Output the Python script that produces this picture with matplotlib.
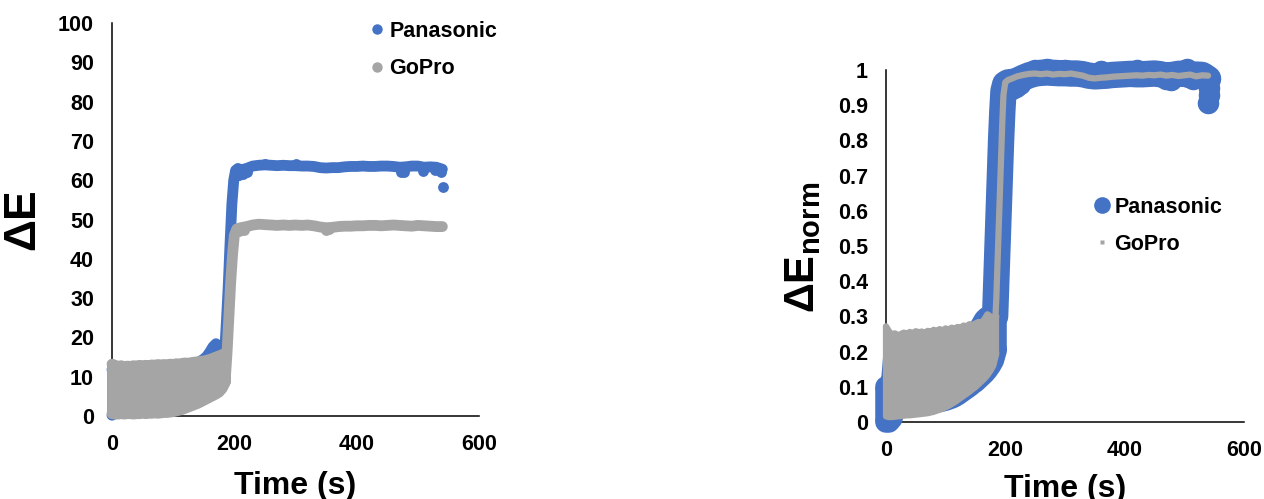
import matplotlib
matplotlib.use("Agg")
import matplotlib.pyplot as plt
from matplotlib.lines import Line2D

plt.rcParams['font.family'] = ['Liberation Sans', 'DejaVu Sans']
plt.rcParams['font.weight'] = 'bold'
plt.rcParams['mathtext.fontset'] = 'custom'
plt.rcParams['mathtext.rm'] = 'Liberation Sans:bold'
plt.rcParams['mathtext.bf'] = 'Liberation Sans:bold'
plt.rcParams['mathtext.it'] = 'Liberation Sans:bold'

BLUE = '#4472C4'
GRAY = '#A5A5A5'

series_names = ['Panasonic', 'GoPro']
x_ticks = [0, 200, 400, 600]
left_y_ticks = [0, 10, 20, 30, 40, 50, 60, 70, 80, 90, 100]
right_y_ticks = [0, 0.1, 0.2, 0.3, 0.4, 0.5, 0.6, 0.7, 0.8, 0.9, 1.0]
right_y_labels = ['0', '0.1', '0.2', '0.3', '0.4', '0.5', '0.6', '0.7', '0.8', '0.9', '1']

# ---------- noisy start (0-185 s): per-time low / high values ----------
t_noise = [0, 5, 10, 15, 20, 25, 30, 35, 40, 45, 50, 55, 60, 65, 70, 75, 80, 85, 90,
           95, 100, 105, 110, 115, 120, 125, 130, 135, 140, 145, 150, 155, 160, 165,
           170, 175, 180, 185]

# Left panel (Delta E)
gopro_lo = [0.6, 0.5, 0.5, 0.6, 0.5, 0.6, 0.6, 0.5, 0.6, 0.6, 0.7, 0.6, 0.7, 0.7, 0.8, 0.7,
            0.8, 0.9, 0.9, 1.0, 1.1, 1.3, 1.5, 1.7, 2.0, 2.3, 2.6, 2.9, 3.2, 3.6, 4.0, 4.4,
            4.8, 5.2, 5.6, 6.1, 7.0, 8.5]
gopro_hi = [13.2, 12.9, 12.6, 12.8, 12.5, 12.7, 12.6, 12.8, 12.7, 12.9, 12.8, 12.9, 12.8,
            13.0, 12.9, 13.1, 13.0, 13.1, 13.0, 13.2, 13.1, 13.3, 13.2, 13.4, 13.5, 13.4,
            13.6, 13.7, 13.8, 13.9, 14.0, 14.2, 14.4, 14.7, 15.0, 15.3, 15.6, 16.0]
pana_lo = [0.2, 0.8, 1.2, 1.3, 1.2, 1.3, 1.3, 1.2, 1.3, 1.3, 1.4, 1.3, 1.4, 1.4, 1.5, 1.4,
           1.5, 1.6, 1.6, 1.7, 1.8, 2.0, 2.2, 2.4, 2.7, 3.0, 3.3, 3.6, 3.9, 4.3, 4.7, 5.1,
           5.5, 5.9, 6.3, 6.8, 7.7, 9.2]
pana_hi = [11.8, 11.6, 11.4, 11.6, 11.3, 11.5, 11.4, 11.6, 11.5, 11.7, 11.6, 11.7, 11.6,
           11.8, 11.7, 11.9, 11.8, 11.9, 11.8, 12.0, 11.9, 12.1, 12.0, 12.2, 12.3, 12.2,
           12.4, 12.6, 13.3, 14.0, 14.5, 15.2, 16.3, 17.6, 18.4, 17.6, 17.2, 18.5]

# Right panel (normalised)
gopro_lo_n = [0.016, 0.014, 0.014, 0.015, 0.016, 0.017, 0.018, 0.019, 0.019, 0.020, 0.021,
              0.022, 0.023, 0.024, 0.025, 0.027, 0.029, 0.032, 0.035, 0.038, 0.042, 0.046,
              0.051, 0.056, 0.062, 0.068, 0.074, 0.080, 0.086, 0.093, 0.099, 0.107, 0.115,
              0.123, 0.133, 0.145, 0.160, 0.195]
gopro_hi_n = [0.272, 0.258, 0.248, 0.252, 0.246, 0.250, 0.254, 0.250, 0.256, 0.252, 0.258,
              0.255, 0.257, 0.253, 0.259, 0.256, 0.262, 0.258, 0.264, 0.260, 0.266, 0.262,
              0.268, 0.265, 0.270, 0.268, 0.274, 0.272, 0.278, 0.275, 0.280, 0.284, 0.282,
              0.292, 0.306, 0.300, 0.296, 0.300]
pana_lo_n = [0.000, 0.000, 0.010, 0.040, 0.041, 0.042, 0.043, 0.044, 0.044, 0.045, 0.046,
             0.047, 0.048, 0.049, 0.050, 0.052, 0.054, 0.056, 0.058, 0.060, 0.062, 0.065,
             0.068, 0.072, 0.077, 0.083, 0.089, 0.095, 0.101, 0.108, 0.114, 0.122, 0.130,
             0.138, 0.148, 0.160, 0.175, 0.205]
pana_hi_n = [0.100, 0.100, 0.120, 0.220, 0.218, 0.222, 0.220, 0.224, 0.221, 0.225, 0.222,
             0.226, 0.223, 0.227, 0.224, 0.228, 0.225, 0.229, 0.226, 0.230, 0.227, 0.231,
             0.228, 0.232, 0.230, 0.233, 0.232, 0.235, 0.240, 0.245, 0.250, 0.260, 0.275,
             0.290, 0.298, 0.290, 0.280, 0.300]

# ---------- rise and plateau ----------
t_plateau = [210, 220, 230, 240, 250, 260, 270, 280, 290, 300, 310, 320, 330, 340, 350,
             360, 370, 380, 390, 400, 410, 420, 430, 440, 450, 460, 470, 480, 490, 500,
             510, 520, 530, 540]

pana_rise_t = [185, 187, 190, 193, 196, 199, 202, 206]
pana_rise_v = [18.5, 24.0, 33.0, 44.0, 54.0, 60.0, 62.5, 63.0]
pana_plateau = [62.6, 63.0, 63.6, 63.8, 63.9, 63.8, 63.7, 63.8, 63.7, 63.7, 63.6, 63.6,
                63.5, 63.2, 63.1, 63.2, 63.2, 63.4, 63.5, 63.5, 63.6, 63.5, 63.5, 63.6,
                63.6, 63.5, 63.3, 63.4, 63.6, 63.6, 63.3, 63.4, 63.3, 62.8]
pana_extra_t = [203, 208, 214, 220, 250, 300, 472, 478, 508, 528, 537, 541]
pana_extra_v = [61.0, 61.2, 61.5, 62.0, 64.2, 64.1, 62.0, 62.2, 62.3, 62.5, 62.0, 58.3]

gopro_rise_t = [185, 188, 191, 194, 197, 200, 204]
gopro_rise_v = [9.0, 16.0, 25.0, 34.0, 41.0, 46.0, 47.6]
gopro_plateau = [47.9, 48.2, 48.6, 48.8, 48.7, 48.6, 48.5, 48.6, 48.5, 48.6, 48.5, 48.6,
                 48.4, 48.1, 47.9, 48.0, 48.2, 48.3, 48.3, 48.4, 48.4, 48.5, 48.5, 48.4,
                 48.5, 48.6, 48.5, 48.4, 48.3, 48.5, 48.4, 48.3, 48.2, 48.2]
gopro_extra_t = [207, 215, 350, 355]
gopro_extra_v = [47.0, 47.4, 47.4, 47.5]

pana_rise_t_n = [183, 185, 187, 189, 191, 193, 195, 197, 200, 205]
pana_rise_v_n = [0.30, 0.40, 0.50, 0.60, 0.70, 0.80, 0.88, 0.94, 0.96, 0.965]
pana_plateau_n = [0.965, 0.970, 0.978, 0.985, 0.990, 0.992, 0.993, 0.992, 0.991, 0.991,
                  0.990, 0.990, 0.988, 0.984, 0.982, 0.983, 0.984, 0.986, 0.987, 0.988,
                  0.989, 0.988, 0.988, 0.989, 0.990, 0.988, 0.984, 0.986, 0.989, 0.990,
                  0.985, 0.987, 0.986, 0.975]
pana_extra_t_n = [205, 212, 218, 225, 250, 270, 300, 360, 420, 470, 478, 505, 515, 535,
                  541, 541, 539]
pana_extra_v_n = [0.950, 0.945, 0.952, 0.960, 1.000, 1.003, 1.000, 0.998, 1.000, 0.975,
                  0.972, 1.002, 0.975, 0.990, 0.950, 0.930, 0.905]

gopro_rise_t_n = [183, 185, 187, 189, 191, 193, 195, 197, 200, 205]
gopro_rise_v_n = [0.28, 0.35, 0.45, 0.55, 0.65, 0.75, 0.85, 0.93, 0.965, 0.972]
gopro_plateau_n = [0.975, 0.982, 0.986, 0.989, 0.990, 0.988, 0.990, 0.987, 0.989, 0.988,
                   0.990, 0.987, 0.984, 0.978, 0.976, 0.978, 0.979, 0.981, 0.982, 0.983,
                   0.984, 0.985, 0.984, 0.986, 0.985, 0.987, 0.984, 0.986, 0.983, 0.985,
                   0.987, 0.982, 0.985, 0.984]


def draw_series(ax, lo, hi, rise_t, rise_v, plateau, ex_t, ex_v, color, d, z,
                marker='o', d_main=None):
    if d_main is None:
        d_main = d
    kw = dict(color=color, zorder=z, clip_on=False)
    # solid noisy band with rounded (marker-like) borders
    ax.fill_between(t_noise, lo, hi, lw=0, **kw)
    ax.plot(t_noise, lo, lw=d, solid_capstyle='round', solid_joinstyle='round', **kw)
    ax.plot(t_noise, hi, lw=d, solid_capstyle='round', solid_joinstyle='round', **kw)
    ax.vlines([t_noise[0], t_noise[-1]], [lo[0], lo[-1]], [hi[0], hi[-1]],
              colors=color, linewidths=d, zorder=z, clip_on=False)
    # rise and plateau
    ax.plot(rise_t + t_plateau, rise_v + plateau, lw=d_main,
            solid_capstyle='round', solid_joinstyle='round', **kw)
    ax.plot(ex_t, ex_v, ls='none', marker=marker, ms=d, mfc=color, mec='none',
            zorder=z, clip_on=False)


def style_axes(ax, yticks, ylabels, ylim, fs):
    ax.set_xlim(0, 600)
    ax.set_ylim(*ylim)
    for s in ('top', 'right'):
        ax.spines[s].set_visible(False)
    for s in ('left', 'bottom'):
        ax.spines[s].set_color('black')
        ax.spines[s].set_linewidth(1.1)
        ax.spines[s].set_zorder(2)
    ax.set_xticks(x_ticks)
    ax.set_xticklabels([str(v) for v in x_ticks], fontsize=fs, fontweight='bold')
    ax.set_yticks(yticks)
    ax.set_yticklabels(ylabels, fontsize=fs, fontweight='bold')
    ax.tick_params(length=0, pad=13)
    ax.patch.set_alpha(0)


fig = plt.figure(figsize=(12.64, 4.99), dpi=100)

# ---------------- left panel ----------------
ax1 = fig.add_axes([0.0886, 0.1663, 0.2904, 0.7876])
draw_series(ax1, pana_lo, pana_hi, pana_rise_t, pana_rise_v, pana_plateau,
            pana_extra_t, pana_extra_v, BLUE, 7.8, 3)
draw_series(ax1, gopro_lo, gopro_hi, gopro_rise_t, gopro_rise_v, gopro_plateau,
            gopro_extra_t, gopro_extra_v, GRAY, 7.8, 4)
style_axes(ax1, left_y_ticks, [str(v) for v in left_y_ticks], (0, 100), 15.5)
ax1.set_xlabel('Time (s)', fontsize=23, fontweight='bold', labelpad=11.5)
ax1.set_ylabel('\u0394E', fontsize=32, fontweight='bold')
ax1.yaxis.set_label_coords(-0.188, 0.5)

h1 = [Line2D([], [], ls='none', marker='o', ms=7.5, mfc=BLUE, mec='none'),
      Line2D([], [], ls='none', marker='o', ms=7.5, mfc=GRAY, mec='none')]
ax1.legend(h1, series_names, loc='upper left', bbox_to_anchor=(0.2943, 0.958),
           bbox_transform=fig.transFigure, frameon=False, handlelength=0.5,
           handletextpad=0.3, labelspacing=0.75, borderpad=0, borderaxespad=0,
           prop={'size': 15.5, 'weight': 'bold'})

# ---------------- right panel ----------------
ax2 = fig.add_axes([0.7009, 0.1543, 0.2832, 0.7054])
draw_series(ax2, pana_lo_n, pana_hi_n, pana_rise_t_n, pana_rise_v_n, pana_plateau_n,
            pana_extra_t_n, pana_extra_v_n, BLUE, 15.5, 3, d_main=19)
draw_series(ax2, gopro_lo_n, gopro_hi_n, gopro_rise_t_n, gopro_rise_v_n, gopro_plateau_n,
            [], [], GRAY, 4.5, 4, marker='s')
style_axes(ax2, right_y_ticks, right_y_labels, (0, 1), 15.5)
ax2.set_xlabel('Time (s)', fontsize=23, fontweight='bold', labelpad=9.5)
ax2.set_ylabel(r'$\mathbf{\Delta E}_{\mathbf{norm}}$', fontsize=30)
ax2.yaxis.set_label_coords(-0.176, 0.497)

h2 = [Line2D([], [], ls='none', marker='o', ms=12, mfc=BLUE, mec='none'),
      Line2D([], [], ls='none', marker='s', ms=3.5, mfc=GRAY, mec='none')]
ax2.legend(h2, series_names, loc='upper left', bbox_to_anchor=(0.8679, 0.606),
           bbox_transform=fig.transFigure, frameon=False, handlelength=0.5,
           handletextpad=0.3, labelspacing=0.75, borderpad=0, borderaxespad=0,
           prop={'size': 15.5, 'weight': 'bold'})

fig.savefig('out.png', dpi=100)
